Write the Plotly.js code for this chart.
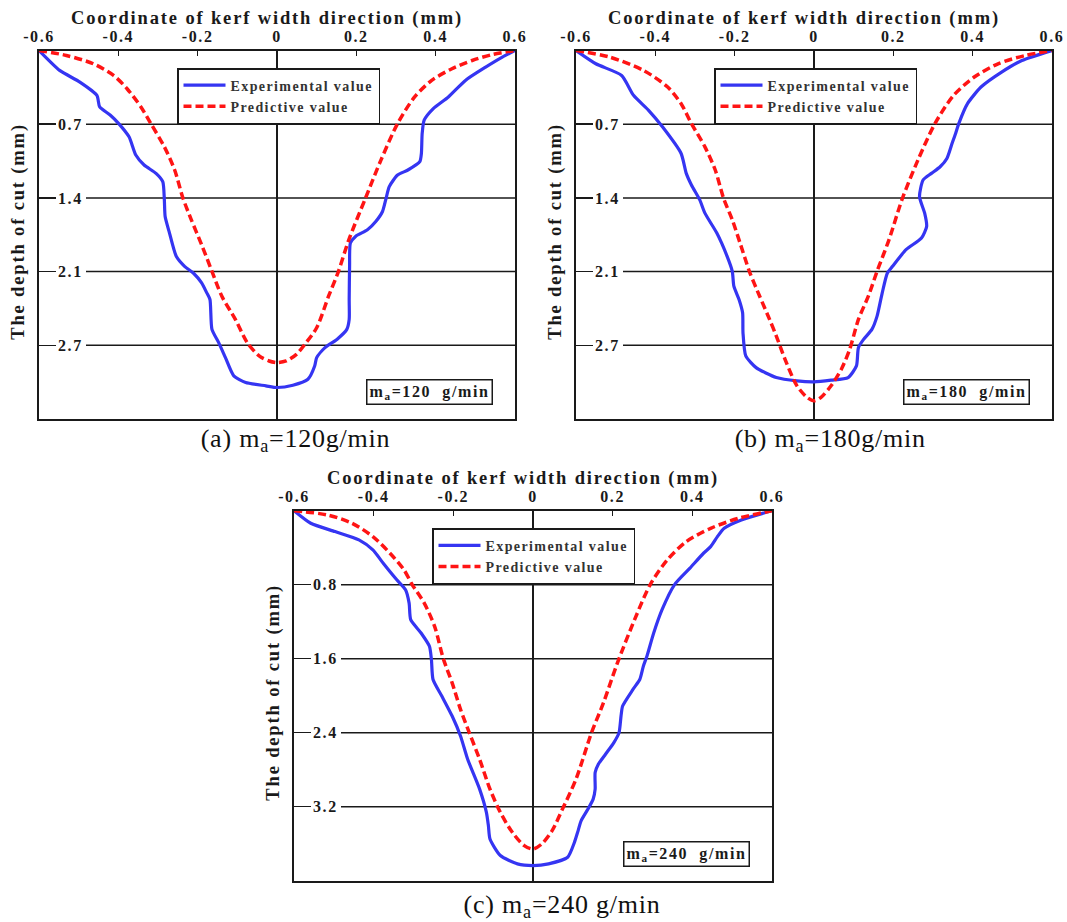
<!DOCTYPE html>
<html>
<head>
<meta charset="utf-8">
<script src="https://cdn.plot.ly/plotly-3.0.1.min.js"></script>
<style>
  html, body { margin: 0; padding: 0; background: #fff; }
  #chart { width: 1067px; height: 922px; }
  svg text { letter-spacing: 0.1em; }
  .annotation[data-index="0"] text,
  .annotation[data-index="1"] text,
  .annotation[data-index="2"] text { letter-spacing: 0.03em; }
</style>
</head>
<body>
<div id="chart"></div>
<script>
// Kerf profiles: lateral coordinate (mm) vs. depth of cut (mm)
const xTickVals = [-0.6, -0.4, -0.2, 0, 0.2, 0.4, 0.6];
const xTickText = ['-0.6', '-0.4', '-0.2', '0', '0.2', '0.4', '0.6'];

const yTickValsAB = [0.7, 1.4, 2.1, 2.8];
const yTickTextAB = ['0.7', '1.4', '2.1', '2.7'];
const yTickValsC = [0.8, 1.6, 2.4, 3.2];
const yTickTextC = ['0.8', '1.6', '2.4', '3.2'];

// (a) m_a = 120 g/min
const aExpX = [-0.6, -0.548, -0.497, -0.454, -0.447, -0.420, -0.399, -0.373, -0.356, -0.335, -0.305, -0.288, -0.284, -0.282, -0.271, -0.254, -0.233, -0.211, -0.190, -0.177, -0.169, -0.164, -0.147, -0.130, -0.109, -0.079, -0.028, 0, 0.040, 0.078, 0.095, 0.100, 0.121, 0.151, 0.176, 0.182, 0.182, 0.183, 0.185, 0.198, 0.228, 0.249, 0.266, 0.274, 0.283, 0.304, 0.330, 0.360, 0.364, 0.366, 0.371, 0.394, 0.432, 0.475, 0.526, 0.568, 0.6];
const aExpY = [0, 0.189, 0.30, 0.426, 0.536, 0.615, 0.694, 0.82, 0.993, 1.088, 1.167, 1.246, 1.419, 1.577, 1.734, 1.955, 2.05, 2.113, 2.207, 2.302, 2.365, 2.649, 2.775, 2.917, 3.09, 3.154, 3.185, 3.201, 3.179, 3.122, 2.996, 2.917, 2.822, 2.744, 2.649, 2.554, 2.365, 2.05, 1.829, 1.766, 1.703, 1.624, 1.529, 1.419, 1.293, 1.183, 1.135, 1.056, 0.978, 0.788, 0.662, 0.552, 0.441, 0.284, 0.158, 0.063, 0];
const aPredX = [-0.6, -0.531, -0.463, -0.412, -0.378, -0.343, -0.318, -0.284, -0.258, -0.237, -0.216, -0.190, -0.164, -0.139, -0.105, -0.075, -0.045, -0.020, 0, 0.023, 0.049, 0.070, 0.100, 0.130, 0.155, 0.181, 0.223, 0.262, 0.304, 0.347, 0.390, 0.441, 0.492, 0.543, 0.6];
const aPredY = [0, 0.047, 0.126, 0.237, 0.363, 0.536, 0.694, 0.915, 1.135, 1.403, 1.608, 1.845, 2.097, 2.334, 2.554, 2.775, 2.901, 2.949, 2.964, 2.949, 2.886, 2.791, 2.633, 2.334, 2.097, 1.798, 1.403, 1.041, 0.694, 0.441, 0.284, 0.173, 0.095, 0.038, 0];

// (b) m_a = 180 g/min
const bExpX = [-0.6, -0.550, -0.485, -0.455, -0.417, -0.382, -0.335, -0.322, -0.309, -0.288, -0.275, -0.245, -0.219, -0.206, -0.202, -0.189, -0.180, -0.179, -0.172, -0.146, -0.095, -0.043, 0, 0.043, 0.086, 0.107, 0.112, 0.125, 0.146, 0.159, 0.172, 0.185, 0.198, 0.232, 0.271, 0.284, 0.279, 0.266, 0.275, 0.296, 0.318, 0.335, 0.348, 0.357, 0.365, 0.387, 0.421, 0.473, 0.524, 0.6];
const bExpY = [0, 0.126, 0.237, 0.426, 0.568, 0.725, 0.978, 1.167, 1.277, 1.419, 1.545, 1.734, 1.955, 2.097, 2.239, 2.365, 2.491, 2.681, 2.901, 3.012, 3.106, 3.138, 3.147, 3.131, 3.106, 2.996, 2.822, 2.744, 2.649, 2.523, 2.302, 2.113, 2.05, 1.892, 1.782, 1.671, 1.545, 1.388, 1.23, 1.167, 1.104, 1.025, 0.883, 0.788, 0.694, 0.505, 0.347, 0.205, 0.095, 0];
const bPredX = [-0.6, -0.515, -0.430, -0.369, -0.335, -0.309, -0.275, -0.249, -0.228, -0.206, -0.185, -0.163, -0.137, -0.112, -0.095, -0.073, -0.043, -0.017, 0, 0.017, 0.043, 0.069, 0.090, 0.112, 0.137, 0.159, 0.189, 0.223, 0.262, 0.305, 0.352, 0.404, 0.464, 0.533, 0.6];
const bPredY = [0, 0.063, 0.189, 0.347, 0.505, 0.694, 0.915, 1.135, 1.403, 1.608, 1.845, 2.097, 2.334, 2.554, 2.712, 2.933, 3.185, 3.296, 3.327, 3.296, 3.185, 3.027, 2.838, 2.554, 2.334, 2.097, 1.798, 1.403, 1.041, 0.694, 0.426, 0.252, 0.126, 0.047, 0];

// (c) m_a = 240 g/min
const cExpX = [-0.6, -0.558, -0.497, -0.437, -0.402, -0.376, -0.342, -0.320, -0.311, -0.307, -0.281, -0.260, -0.255, -0.251, -0.229, -0.203, -0.182, -0.164, -0.134, -0.117, -0.112, -0.108, -0.082, -0.039, 0, 0.039, 0.087, 0.104, 0.112, 0.121, 0.138, 0.151, 0.156, 0.156, 0.164, 0.182, 0.203, 0.216, 0.221, 0.225, 0.251, 0.268, 0.277, 0.286, 0.303, 0.324, 0.355, 0.394, 0.428, 0.446, 0.463, 0.480, 0.523, 0.6];
const cExpY = [0, 0.136, 0.226, 0.316, 0.424, 0.568, 0.747, 0.855, 0.999, 1.178, 1.322, 1.466, 1.609, 1.825, 2.004, 2.220, 2.435, 2.687, 3.010, 3.261, 3.405, 3.549, 3.728, 3.818, 3.836, 3.818, 3.746, 3.585, 3.477, 3.351, 3.226, 3.118, 3.010, 2.830, 2.741, 2.633, 2.507, 2.399, 2.220, 2.112, 1.932, 1.825, 1.681, 1.573, 1.322, 1.070, 0.801, 0.621, 0.460, 0.388, 0.280, 0.190, 0.101, 0];
const cPredX = [-0.6, -0.515, -0.454, -0.402, -0.359, -0.324, -0.303, -0.273, -0.247, -0.225, -0.203, -0.182, -0.160, -0.134, -0.108, -0.082, -0.052, -0.022, 0, 0.022, 0.048, 0.074, 0.108, 0.147, 0.177, 0.212, 0.255, 0.294, 0.337, 0.385, 0.446, 0.515, 0.6];
const cPredY = [0, 0.047, 0.136, 0.280, 0.460, 0.639, 0.801, 0.999, 1.250, 1.602, 1.861, 2.148, 2.399, 2.687, 3.010, 3.261, 3.477, 3.621, 3.657, 3.603, 3.459, 3.226, 2.902, 2.399, 2.076, 1.645, 1.178, 0.801, 0.532, 0.334, 0.190, 0.083, 0];

const seriesNames = ['Experimental value', 'Predictive value'];
const feedLabels = ['m<sub>a</sub>=120\u00a0\u00a0g/min', 'm<sub>a</sub>=180\u00a0\u00a0g/min', 'm<sub>a</sub>=240\u00a0\u00a0g/min'];
const captions = ['(a) m<sub>a</sub>=120g/min', '(b) m<sub>a</sub>=180g/min', '(c) m<sub>a</sub>=240 g/min'];
const xTitle = 'Coordinate of kerf width direction (mm)';
const yTitle = 'The depth of cut (mm)';

const W = 1067, H = 922;
const ink = '#1a1a1a';
const blue = '#3535f2';
const red = '#ff1414';
const FONT = 'Liberation Serif, Times New Roman, serif';

// plot boxes in page pixels: [left, right, top, bottom]
const boxes = [[39, 515, 50.5, 419], [576, 1052, 50.5, 419], [294, 772, 510.7, 880.7]];
const panels = [
  {ex: aExpX, ey: aExpY, px: aPredX, py: aPredY, tv: yTickValsAB, tt: yTickTextAB, ymax: 3.5},
  {ex: bExpX, ey: bExpY, px: bPredX, py: bPredY, tv: yTickValsAB, tt: yTickTextAB, ymax: 3.5},
  {ex: cExpX, ey: cExpY, px: cPredX, py: cPredY, tv: yTickValsC, tt: yTickTextC, ymax: 4.0}
];

const traces = [];
const layout = {
  width: W, height: H,
  margin: {l: 0, r: 0, t: 0, b: 0},
  paper_bgcolor: '#ffffff',
  plot_bgcolor: '#ffffff',
  font: {family: FONT, color: '#222222'},
  showlegend: true,
  shapes: [],
  annotations: []
};

// panel captions first (annotation indices 0-2)
const capPos = [[295, 440], [830, 440], [562, 906]];
captions.forEach((c, i) => {
  layout.annotations.push({
    xref: 'paper', yref: 'paper',
    x: capPos[i][0] / W, y: 1 - capPos[i][1] / H,
    xanchor: 'center', yanchor: 'middle', showarrow: false,
    text: c, font: {size: 26, color: '#111'}
  });
});

panels.forEach((p, i) => {
  const n = i === 0 ? '' : String(i + 1);
  const xa = 'x' + n, ya = 'y' + n;
  const lg = 'legend' + n;
  const [L, R, T, B] = boxes[i];

  traces.push({
    x: p.ex, y: p.ey, xaxis: xa, yaxis: ya, legend: lg,
    type: 'scatter', mode: 'lines', name: seriesNames[0],
    line: {color: blue, width: 3.2, shape: 'spline', smoothing: 0.6}
  });
  traces.push({
    x: p.px, y: p.py, xaxis: xa, yaxis: ya, legend: lg,
    type: 'scatter', mode: 'lines', name: seriesNames[1],
    line: {color: red, width: 3.5, dash: '8px,4px', shape: 'spline', smoothing: 0.8}
  });

  layout['xaxis' + n] = {
    domain: [L / W, R / W], anchor: ya, side: 'top',
    range: [-0.6, 0.6], tickvals: xTickVals, ticktext: xTickText,
    ticks: 'inside', ticklen: 5, tickwidth: 1.5, tickcolor: ink,
    showline: true, mirror: true, linewidth: 2, linecolor: ink,
    showgrid: false, zeroline: true, zerolinecolor: ink, zerolinewidth: 1.5,
    tickfont: {size: 16, weight: 'bold', color: '#1a1a1a'},
    fixedrange: true
  };
  layout['yaxis' + n] = {
    domain: [1 - B / H, 1 - T / H], anchor: xa,
    range: [p.ymax, 0], tickvals: p.tv, ticktext: p.tt,
    ticks: 'inside', ticklen: 17, tickwidth: 1.5, tickcolor: ink,
    ticklabelstandoff: -49,
    showline: true, mirror: true, linewidth: 2, linecolor: ink,
    showgrid: false, zeroline: false,
    tickfont: {size: 16, weight: 'bold', color: '#1a1a1a'},
    fixedrange: true
  };

  // horizontal grid lines, broken where the tick labels sit
  p.tv.forEach(v => {
    layout.shapes.push({
      type: 'line', xref: xa + ' domain', yref: ya,
      x0: 47 / (R - L), x1: 1, y0: v, y1: v,
      line: {color: ink, width: 1.5}, layer: 'below'
    });
  });

  layout[lg] = {
    x: (L + 138) / W, y: 1 - (T + 17.5) / H,
    xanchor: 'left', yanchor: 'top',
    bgcolor: '#ffffff', bordercolor: ink, borderwidth: 1.5,
    font: {size: 14, weight: 'bold', color: '#333'},
    tracegroupgap: 0, itemwidth: 42
  };

  // feed-rate box
  layout.annotations.push({
    xref: xa + ' domain', yref: ya + ' domain',
    x: 1 - 22 / (R - L), y: 14 / (B - T),
    xanchor: 'right', yanchor: 'bottom', showarrow: false,
    text: feedLabels[i],
    font: {size: 16, weight: 'bold', color: '#1a1a1a'},
    bgcolor: '#ffffff', bordercolor: ink, borderwidth: 1.5, borderpad: 2
  });

  // axis titles
  layout.annotations.push({
    xref: 'paper', yref: 'paper',
    x: ((L + R) / 2 - 10) / W, y: 1 - (T - 32) / H,
    xanchor: 'center', yanchor: 'middle', showarrow: false,
    text: xTitle, font: {size: 18.5, weight: 'bold', color: '#1a1a1a'}
  });
  layout.annotations.push({
    xref: 'paper', yref: 'paper',
    x: (L - 20) / W, y: 1 - ((T + B) / 2 - 3) / H,
    xanchor: 'center', yanchor: 'middle', showarrow: false, textangle: -90,
    text: yTitle, font: {size: 18.5, weight: 'bold', color: '#1a1a1a'}
  });
});

Plotly.newPlot('chart', traces, layout, {staticPlot: true, displayModeBar: false});
</script>
</body>
</html>
